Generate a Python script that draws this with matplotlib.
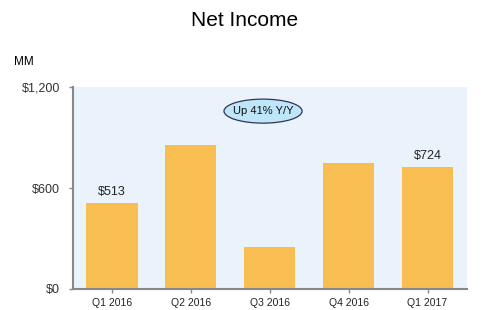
import matplotlib.pyplot as plt
from matplotlib.patches import Ellipse

plt.rcParams['font.family'] = ['Liberation Sans', 'DejaVu Sans']

quarters = ['Q1 2016', 'Q2 2016', 'Q3 2016', 'Q4 2016', 'Q1 2017']
net_income = [513, 857, 252, 749, 724]
labelled = {0: '$513', 4: '$724'}
y_ticks = [0, 600, 1200]
y_tick_labels = ['$0', '$600', '$1,200']

fig = plt.figure(figsize=(4.9, 3.1), dpi=100)
ax = fig.add_axes([0.148, 0.068, 0.805, 0.651])
ax.set_facecolor('#EAF2FC')

x = range(len(quarters))
ax.bar(x, net_income, width=0.65, color='#F9BE52', zorder=2)

for i, txt in labelled.items():
    ax.text(i, net_income[i] + 30, txt, ha='center', va='bottom', fontsize=9, color='#222222')

ax.set_xlim(-0.5, 4.5)
ax.set_ylim(0, 1200)
ax.set_xticks(list(x))
ax.set_xticklabels(quarters, fontsize=7.5, color='#222222')
ax.set_yticks(y_ticks)
ax.set_yticklabels(y_tick_labels, fontsize=9, color='#333333')
ax.tick_params(axis='both', length=3, color='#888888', width=1)
ax.tick_params(axis='y', pad=6)

for s in ['top', 'right']:
    ax.spines[s].set_visible(False)
for s in ['left', 'bottom']:
    ax.spines[s].set_color('#888888')
    ax.spines[s].set_linewidth(1.5)

# callout bubble
ax.add_patch(Ellipse((0.483, 0.881), 0.198, 0.119, transform=ax.transAxes,
                     fc='#BEE5F8', ec='#333355', lw=0.9, zorder=3))
ax.text(0.483, 0.881, 'Up 41% Y/Y', transform=ax.transAxes, ha='center', va='center',
        fontsize=8, color='#111111', zorder=4)

fig.text(0.5, 0.935, 'Net Income', ha='center', va='center', fontsize=15)
fig.text(0.028, 0.80, 'MM', ha='left', va='center', fontsize=8.5)

fig.savefig('out.png', dpi=100)
